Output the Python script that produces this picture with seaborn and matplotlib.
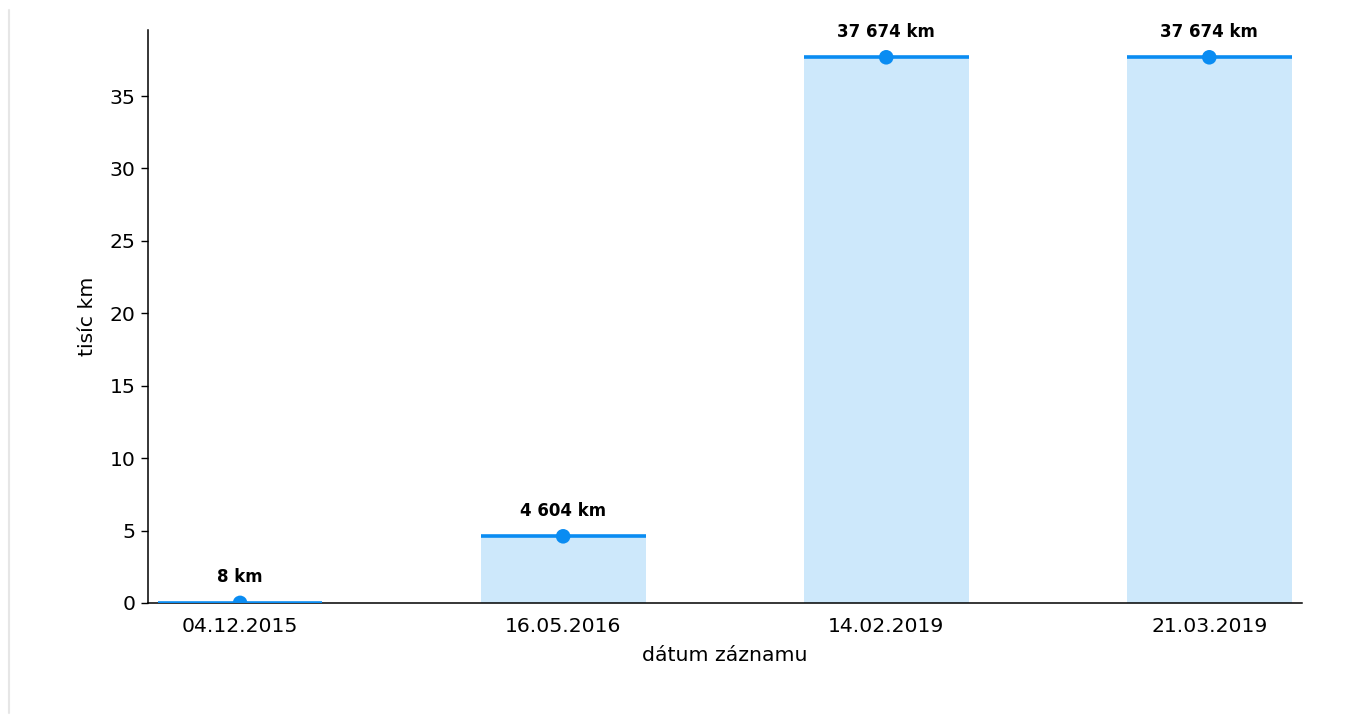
import matplotlib
matplotlib.use("Agg")
import matplotlib.pyplot as plt
from matplotlib.lines import Line2D
import seaborn as sns
import pandas as pd

# Odometer readings (thousands of km) per record date
dates = ["04.12.2015", "16.05.2016", "14.02.2019", "21.03.2019"]
km = [8, 4604, 37674, 37674]
km_labels = ["8 km", "4 604 km", "37 674 km", "37 674 km"]

df = pd.DataFrame({"datum": dates, "tis_km": [v / 1000 for v in km]})

sns.set_theme(style="white")
plt.rcParams["font.family"] = ["DejaVu Sans"]
plt.rcParams["text.color"] = "black"
plt.rcParams["axes.labelcolor"] = "black"
plt.rcParams["xtick.color"] = "black"
plt.rcParams["ytick.color"] = "black"

line_color = "#0a8cf2"
fill_color = "#cde8fb"
fs = 14.7

fig = plt.figure(figsize=(13.62, 7.15), dpi=100)
ax = fig.add_axes([148 / 1362, 1 - 603 / 715, (1302 - 148) / 1362, (603 - 30) / 715])

sns.barplot(data=df, x="datum", y="tis_km", color=fill_color, width=0.51,
            saturation=1, ax=ax, edgecolor="none")

# Top edge of each bar as a thick line
for p in ax.patches:
    ax.hlines(p.get_height(), p.get_x(), p.get_x() + p.get_width(),
              color=line_color, linewidth=2.6, zorder=3)

sns.scatterplot(data=df, x="datum", y="tis_km", color=line_color, s=110,
                edgecolor="none", zorder=4, ax=ax, legend=False)

for i, (v, lab) in enumerate(zip(df["tis_km"], km_labels)):
    ax.annotate(lab, (i, v), xytext=(0, 12), textcoords="offset points",
                ha="center", va="bottom", fontsize=12, fontweight="bold",
                color="black")

ax.set_ylim(0, max(df["tis_km"]) * 1.05)
ax.set_xlim(-0.285, 3.287)
ax.set_yticks([0, 5, 10, 15, 20, 25, 30, 35])
ax.set_xlabel("dátum záznamu", fontsize=fs, labelpad=7.5)
ax.set_ylabel("tisíc km", fontsize=fs, labelpad=9)
ax.tick_params(axis="y", which="major", left=True, length=5, width=1,
               color="black", labelcolor="black", labelsize=fs, pad=4)
ax.tick_params(axis="x", bottom=False, labelcolor="black", labelsize=fs, pad=4)
for side in ["top", "right"]:
    ax.spines[side].set_visible(False)
for side in ["left", "bottom"]:
    ax.spines[side].set_color("black")
    ax.spines[side].set_linewidth(1.1)
ax.set_facecolor("white")

# thin page border on the left
fig.add_artist(Line2D([8.5 / 1362, 8.5 / 1362], [1 - 713 / 715, 1 - 10 / 715],
                      transform=fig.transFigure, color="#e6e6e6", linewidth=1.5))

fig.savefig("out.png", dpi=100, facecolor="white")
